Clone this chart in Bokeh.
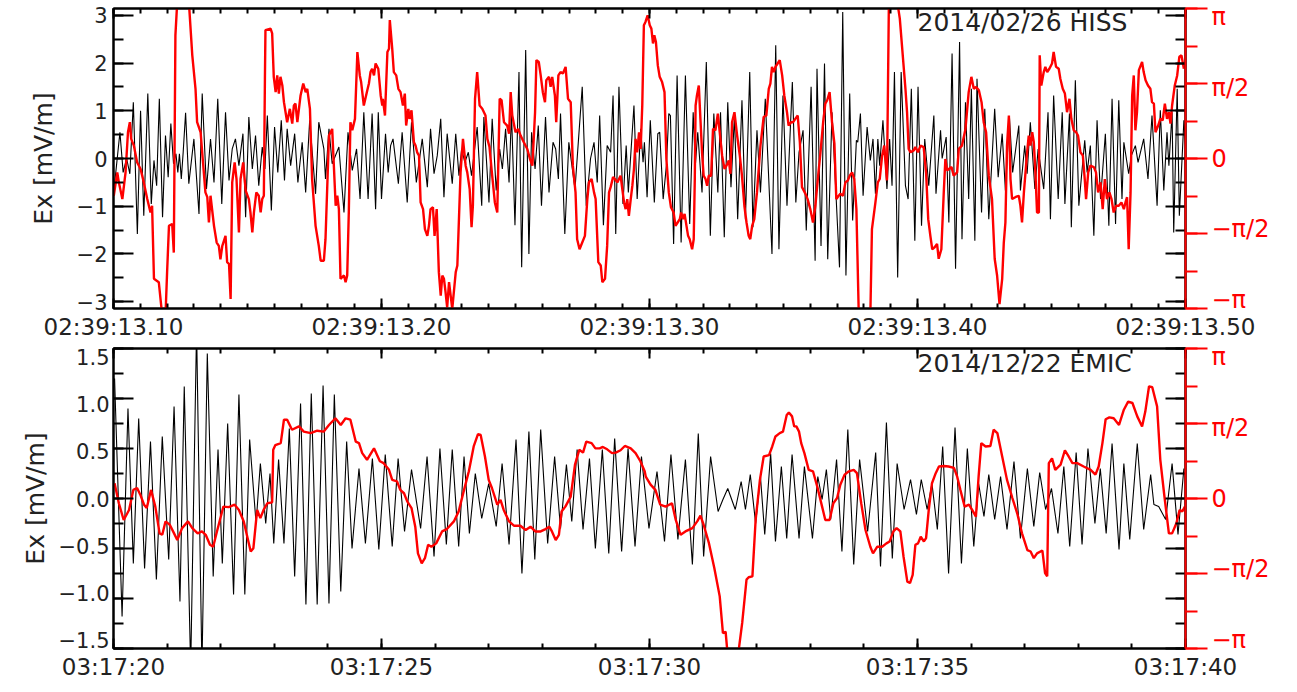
import math
from bokeh.plotting import figure
from bokeh.layouts import column
from bokeh.models import Range1d, LinearAxis, FixedTicker, Label
from bokeh.embed import file_html
from bokeh.resources import INLINE

PI = math.pi
FONT = "DejaVu Sans"
TXT = "#222222"
RED = "#ff0000"

# ---------------- top panel: 2014/02/26 HISS (time in ms after 02:39:13.10)
hiss_ms = [
    0.1, 2.4, 3.6, 4.9, 6.1, 7.4, 8.9, 10.1, 11.3, 12.8,
    14.1, 15.1, 16.1, 17.1, 18.3, 19.4, 20.4, 21.4, 22.4, 23.3,
    24.0, 24.6, 25.3, 26.0, 26.9, 28.1, 30.0, 31.9, 33.1, 34.7,
    36.2, 37.5, 38.9, 40.4, 41.8, 43.1, 44.3, 45.5, 46.8, 48.3,
    49.3, 50.5, 51.8, 53.0, 54.2, 55.5, 56.5, 57.4, 58.9, 60.1,
    61.3, 62.6, 63.8, 64.8, 66.1, 67.6, 68.8, 70.4, 71.7, 73.2,
    75.4, 76.6, 78.5, 79.1, 80.4, 81.6, 84.1, 86.0, 87.5, 89.1,
    90.7, 92.0, 93.4, 95.0, 96.5, 97.8, 98.8, 100.0, 101.5, 102.5,
    103.4, 104.3, 106.3, 107.7, 109.6, 111.2, 113.0, 115.2, 117.1, 118.3,
    119.6, 120.8, 122.1, 123.3, 124.5, 126.4, 127.7, 128.9, 129.9, 131.1,
    132.4, 133.6, 135.7, 137.4, 138.2, 140.1, 141.3, 142.8, 144.1, 145.1,
    146.3, 147.6, 148.5, 149.8, 151.3, 152.3, 153.8, 155.0, 156.0, 157.3,
    158.5, 159.7, 161.2, 162.5, 164.0, 165.0, 166.0, 166.8, 168.4, 169.9,
    172.2, 174.9, 176.4, 178.0, 179.3, 180.5, 181.4, 182.8, 184.2, 185.5,
    186.4, 187.4, 188.6, 190.1, 191.3, 192.1, 194.2, 195.4, 196.7, 197.6,
    198.1, 199.1, 200.3, 201.8, 203.1, 203.8, 205.1, 206.3, 207.2, 207.8,
    209.0, 210.3, 211.8, 213.4, 215.0, 216.3, 217.1, 218.0, 219.6, 221.2,
    222.7, 224.0, 225.5, 226.5, 227.9, 229.2, 230.4, 231.7, 232.9, 234.5,
    235.8, 237.4, 238.6, 240.1, 241.4, 243.2, 245.7, 247.1, 248.3, 249.8,
    251.3, 253.3, 254.6, 255.8, 257.3, 258.5, 260.3, 261.8, 262.5, 264.0,
    265.3, 266.5, 268.1, 270.9, 272.1, 273.3, 274.7, 275.8, 277.2, 277.7,
    278.7, 279.7, 281.2, 282.4, 283.4, 284.3, 285.2, 285.9, 287.1, 288.6,
    289.6, 290.5, 291.4, 292.6, 293.9, 295.5, 296.5, 297.7, 299.0, 300.2,
    301.5, 302.7, 304.2, 306.1, 306.9, 308.6, 309.2, 310.7, 311.7, 312.9,
    314.2, 315.7, 316.6, 317.9, 319.1, 320.1, 321.4, 322.2, 323.9, 325.1,
    326.6, 328.8, 330.1, 331.6, 332.8, 334.3, 335.5, 337.8, 338.4, 340.0,
    340.9, 342.1, 343.8, 345.0, 347.1, 348.7, 349.6, 350.8, 352.5, 354.0,
    355.0, 356.7, 357.4, 358.9, 360.2, 362.4, 363.3, 364.5, 365.8, 367.0,
    368.3, 370.1, 371.4, 372.6, 373.9, 375.1, 376.3, 377.0, 378.8, 379.8,
    381.3, 382.3, 384.4, 386.0, 387.5, 389.4, 390.6, 391.9, 393.1, 393.8,
    395.0, 395.6, 396.9, 397.7, 399.4, 400.0,
]
hiss_ex = [
    -0.7, 0.55, -0.29, 0.0, -0.32, 1.18, -1.58, 1.0, -1.2, 1.36,
    -0.95, -0.04, -0.57, 1.25, -1.23, 0.48, -0.39, 0.73, -0.11, 0.1,
    -0.29, 0.1, -0.43, 0.13, 0.96, -0.53, 0.41, -1.16, 1.36, -0.64,
    0.41, -0.5, 1.25, -0.95, 0.97, -0.46, 0.2, 0.41, -0.15, 0.52,
    -1.23, 0.87, -0.22, 0.48, -0.57, 0.24, -0.22, 0.9, -1.09, 0.66,
    -0.29, 0.8, -0.46, 0.62, -0.15, 0.52, -0.5, 0.34, -0.71, 0.8,
    -0.74, 0.76, 0.2, -0.43, 0.62, -0.11, 0.24, -1.13, 0.55, -0.25,
    0.2, -0.85, 0.97, -0.85, 0.94, -1.06, 0.97, -0.85, 0.52, -0.29,
    0.27, 0.41, -0.53, 0.55, -0.92, 0.76, -0.5, 0.41, -0.6, 0.62,
    -0.32, 0.06, 0.83, -0.81, 0.52, -0.53, 0.52, -0.36, 0.2, -0.08,
    0.13, -0.36, 0.66, -0.99, 0.87, -0.92, 0.83, -0.67, 0.2, -0.22,
    0.62, -0.5, 0.97, -1.4, 1.81, -2.28, 2.27, -2.0, 0.55, -0.22,
    0.69, -0.99, 0.87, -0.71, 0.34, 0.2, -0.43, 0.94, -1.58, 0.34,
    -0.64, 1.5, -0.99, 0.0, 0.34, -0.5, 0.9, -1.4, 0.27, 0.13,
    1.32, -1.58, 1.5, -0.95, 0.27, -0.71, 1.11, -0.85, 0.62, -0.08,
    0.34, -0.81, 0.8, -0.92, 0.52, 0.55, -0.85, -0.15, 0.94, 0.9,
    -1.79, 1.74, -1.76, 1.74, -1.37, 0.97, -0.15, 0.55, -0.71, 2.02,
    -1.62, 0.94, -0.71, 0.97, -1.65, 1.18, -0.6, 0.9, -1.27, 1.22,
    -1.27, 1.81, -1.44, 0.59, -0.71, 1.25, -2.0, 2.37, -1.9, 1.32,
    -0.99, 1.6, -0.92, 0.13, 0.59, -1.51, 1.5, -2.14, 1.88, -1.83,
    1.99, -2.11, 0.97, -2.28, 3.07, -2.45, 1.36, -1.3, 0.38, 0.34,
    0.94, -0.78, 0.66, -0.04, 0.41, -0.74, 0.41, -0.15, 0.8, -0.64,
    0.41, -0.57, 1.81, -2.49, 1.81, -0.57, -0.85, 1.46, -1.72, 1.5,
    -1.41, 0.41, -0.57, 0.9, -0.74, 0.59, 0.0, 0.45, -1.34, 2.2,
    -2.31, 2.44, -1.69, 1.18, -0.85, 1.46, -1.72, 1.67, -1.13, 1.04,
    -1.27, 1.04, -0.39, 0.52, -0.67, 0.87, -0.29, 0.69, -0.67, 0.27,
    -0.32, 0.76, -0.64, 0.2, -0.64, 0.97, -1.27, 1.32, -0.85, 0.97,
    -0.95, 0.94, -1.44, 1.64, -0.99, 0.38, -0.29, 0.27, -1.62, 0.8,
    -0.85, 0.52, -1.41, 1.25, -1.37, 1.22, -0.85, 0.34, -0.32, 0.06,
    0.27, -0.08, 0.41, -0.43, 0.9, -0.99, 1.01, -0.67, 0.55, -0.15,
    0.97, -1.55, 1.46, -1.2, 0.8, 0.3,
]
hiss_phase_ms = [
    0.1, 1.4, 2.0, 3.3, 4.5, 5.4, 6.1, 6.6, 7.6, 8.8,
    10.1, 11.3, 12.6, 13.8, 14.4, 15.1, 16.9, 18.2, 19.4, 20.0,
    20.7, 21.9, 22.5, 23.1, 23.8, 28.1, 29.4, 30.6, 31.2, 32.5,
    34.3, 35.0, 35.6, 36.2, 37.5, 38.5, 39.3, 39.9, 40.6, 41.8,
    42.4, 43.1, 43.7, 44.3, 45.2, 45.9, 46.8, 47.4, 48.4, 49.3,
    50.5, 51.1, 51.8, 52.4, 53.3, 54.2, 54.9, 55.5, 56.1, 56.5,
    56.7, 58.6, 59.2, 59.8, 60.5, 61.1, 61.7, 62.3, 63.0, 63.6,
    64.8, 65.8, 66.7, 67.3, 67.9, 68.6, 69.8, 70.8, 71.7, 72.3,
    73.3, 74.1, 75.4, 76.6, 77.3, 78.5, 79.1, 80.4, 81.6, 82.9,
    83.5, 84.1, 84.7, 86.0, 86.6, 87.2, 87.8, 88.4, 89.1, 90.1,
    91.0, 91.9, 92.4, 93.4, 94.7, 95.3, 95.9, 96.5, 97.2,
    97.8, 98.8, 99.7, 100.3, 100.5, 101.3, 102.2, 102.8, 103.1, 104.0,
    104.6, 105.5, 106.3, 107.1, 108.0, 108.7, 109.2, 110.0, 110.5, 111.2,
    112.1, 112.7, 113.3, 114.0, 114.6, 115.5, 116.2, 117.1, 117.7, 118.3,
    119.2, 119.8, 120.6, 121.4, 122.1, 122.7, 123.3, 123.9, 124.5, 125.2,
    126.4, 127.7, 128.3, 129.5, 130.4, 131.4, 132.0, 132.9, 133.6, 134.1,
    134.9, 135.7, 136.6, 137.6, 138.8, 139.5, 140.3, 141.3, 142.3, 143.2,
    144.1, 144.8, 145.7, 146.9, 147.6, 148.2, 148.8, 150.0, 151.0, 151.9,
    153.1, 154.4, 155.4, 156.3, 157.3, 157.8, 158.7, 159.4, 160.2, 161.0,
    161.5, 162.5, 163.1, 163.7, 164.7, 165.2, 166.0, 166.8, 167.7, 168.7,
    169.6, 170.6, 171.4, 172.4, 173.0, 173.9, 174.9, 175.9, 176.8, 177.4,
    178.4, 179.3, 179.9, 180.9, 181.8, 182.4, 183.4, 184.2, 184.9, 185.5,
    186.4, 187.1, 188.0, 189.2, 190.5, 191.1, 191.7, 192.3, 193.0, 193.6,
    194.2, 194.8, 195.4, 196.1, 196.7, 197.3, 197.9,
    198.5, 199.3, 200.1, 200.7, 201.3, 201.8, 202.4, 203.1, 203.8, 204.7,
    205.6, 206.3, 207.2, 208.0, 209.0, 209.7, 210.5, 211.3, 211.8, 212.5,
    213.1, 213.8, 214.4, 215.0, 215.9, 216.5, 216.9, 217.2, 217.7, 218.4,
    219.0, 219.6, 220.2, 220.9, 221.5, 222.1, 223.0, 223.7, 224.6, 225.5,
    226.2, 227.1, 228.0, 228.7, 229.6, 230.2, 230.8, 231.7, 232.7, 233.7,
    234.5, 235.4, 236.2, 237.0, 237.6, 238.3, 239.1, 240.1, 241.4, 242.6,
    243.6, 244.5, 245.1, 245.7, 246.4, 247.0, 247.8, 248.6, 249.5, 250.3,
    251.3, 251.9, 252.8, 253.6, 254.4, 255.3, 256.1, 256.9, 258.2, 259.0,
    260.0, 261.0, 261.9, 262.8, 263.8, 264.8, 265.6, 266.3, 267.2, 268.1,
    269.0, 269.7, 270.6, 271.2, 272.2, 273.1, 274.0, 274.7, 275.6, 276.4,
    277.2, 278.1, 282.4, 283.0, 284.3, 285.2, 285.9, 286.8, 287.6, 288.6,
    289.3, 289.9, 292.4, 293.4, 294.2, 295.5,
    296.1, 296.7, 297.4, 298.6, 299.2, 300.2, 301.1, 302.3, 303.2, 304.0,
    304.8, 305.5, 306.4, 307.3, 307.9, 308.9, 309.8, 310.4, 311.0, 311.7,
    312.7, 313.5, 314.8, 315.4, 316.6, 317.9, 319.1, 320.1, 321.0, 321.9,
    322.9, 323.9, 324.7, 325.6, 326.6, 327.8, 328.8, 329.7, 330.6, 331.6,
    332.2, 332.8, 333.4, 334.1, 334.7, 335.3, 336.5, 337.8, 338.4, 339.0,
    339.7, 340.9, 341.5, 342.1, 342.8, 343.4, 344.0, 344.6, 345.3, 345.6,
    346.2, 347.1, 347.7, 348.4, 349.2, 350.2, 350.8, 351.7, 352.7, 353.3,
    354.2, 355.0, 355.8, 356.7, 357.4, 358.3, 359.2, 359.9, 360.8, 361.7,
    362.4, 362.9, 363.7, 364.5, 365.8, 366.6, 367.4, 368.3, 369.1, 369.9,
    370.7, 371.6, 372.4, 373.2, 374.1, 375.1, 376.1, 377.0, 377.6, 378.2,
    378.8, 379.5, 380.1, 380.7, 381.3, 381.9, 382.6, 383.8, 384.4, 385.1,
    386.0, 386.9, 387.5, 388.2, 388.8, 389.8, 390.6, 391.5, 392.3, 393.1,
    393.8, 394.4, 395.0, 396.0, 396.9, 397.7, 398.5, 399.4,
]
hiss_phase = [
    -0.78, -0.29, -0.5, -0.85, -0.29, 0.55, 0.76, 0.41, 0.27, -0.08,
    -0.22, -0.5, -0.85, -1.13, -0.99, -2.52, -2.59, -3.3, -3.3, -2.38,
    -1.41, -1.37, -1.97, 2.58, 3.3, 3.3, 2.16, 1.46, 0.76, 0.55,
    -0.71, -0.81, -1.34, -0.78, -1.41, -1.76, -1.83, -2.11, -1.83, -1.62,
    -2.17, -2.21, -2.94, -0.5, -0.08, -0.43, -1.55, -0.43, -0.08, -0.67,
    -0.85, -1.13, -1.55, -1.13, -0.71, -0.78, -1.13, -0.85, -0.78, 1.67,
    2.69, 2.72, 2.62, 1.71, 1.39, 1.74, 1.36, 1.71, 1.53, 1.18,
    0.76, 1.04, 0.73, 1.11, 1.15, 0.76, 1.32, 1.57, 1.39, 1.46,
    1.04, -0.43, -1.41, -1.83, -2.14, -2.14, -1.69, 0.48, 0.62, -0.99,
    -0.78, -1.06, -2.52, -2.45, -2.59, -2.45, -1.13, 0.76, 0.59, 0.83,
    2.23, 1.74, 1.6, 1.11, 1.43, 1.57, 1.81, 1.88, 1.74,
    1.99, 1.88, 1.32, 1.11, 1.25, 0.9, 2.23, 2.3, 2.9, 2.3,
    1.81, 1.74, 1.46, 1.39, 1.11, 1.36, 0.69, 1.04, 0.83, 1.01,
    0.34, 0.27, 0.13, 0.06, -0.92, -1.06, -1.48, -1.62, -1.41, -1.06,
    -1.02, -1.62, -1.06, -2.38, -2.87, -2.45, -2.52, -2.8, -3.12, -2.59,
    -3.15, -2.38, -2.24, -0.29, 0.41, -0.15, -0.29, -0.64, -1.44, -0.99,
    1.25, 1.81, 1.11, 1.04, 0.9, 0.41, 0.24, -0.36, -0.92, -1.13,
    1.25, 1.22, 0.76, 0.69, 0.52, 1.39, 0.9, 0.55, 0.62, 0.48,
    0.34, 0.2, -0.01, -0.15, 0.97, 2.06, 2.02, 1.74, 1.39, 1.18,
    1.64, 1.71, 1.5, 1.71, 1.32, 0.76, 1.74, 1.81, 1.78, 1.92,
    1.25, 1.18, -0.15, -0.71, -1.69, -1.9, -1.76, -1.62, -0.85, -0.5,
    -0.43, -0.71, -0.85, -2.17, -2.24, -2.59, -2.52, -1.83, -0.71, -0.6,
    -0.39, -0.43, -0.5, -0.36, -0.92, -1.06, -0.85, -1.2, -0.85, -0.57,
    -0.22, 0.41, 0.13, 0.55, 0.2, 1.11, 2.79,
    2.86, 3.0, 2.79, 2.72, 2.41, 2.58, 2.44, 1.95, 1.71, 1.6,
    1.39, -0.01, -0.71, -1.02, -1.13, -1.41, -1.34, -1.27, -1.13, -1.27,
    -1.16, -1.41, -1.62, -1.69, -1.9, -1.69, -0.43, 1.11, 1.32, 1.53,
    0.83, 0.13, -0.36, -0.43, -0.57, -0.36, -0.36, 0.62, 0.59, 0.94,
    0.55, 0.06, -0.22, -0.15, -0.04, -0.32, 0.76, 0.97, 0.48, 0.06,
    -0.36, -0.99, -1.34, -1.62, -1.69, -1.41, -1.27, -0.71, 0.27, 0.87,
    0.9, 1.46, 1.57, 1.92, 1.81, 1.92, 1.99, 2.06, 1.74, 1.32,
    0.97, 0.69, 0.76, 0.76, 0.83, 0.9, 0.34, -0.6, -0.74, -0.85,
    -1.06, -1.34, -0.99, -0.43, 0.13, 0.76, 1.15, 1.22, 1.39, 0.76,
    0.31, -0.85, -0.78, -0.74, -0.78, -0.5, -0.46, -0.36, -0.29, -0.43,
    -1.06, -3.3, -3.3, -1.48, -0.92, -0.5, -0.43, 0.06, 0.27, -0.46,
    3.14, 3.3, 3.3, 2.93, 2.37, 1.46,
    0.97, 0.2, 0.13, 0.17, 0.24, 0.13, 0.27, 0.24, -0.29, -1.27,
    -1.62, -1.9, -1.86, -1.79, -2.1, -1.9, -0.71, -0.01, -0.25, -0.22,
    -0.18, -0.36, -0.29, 0.2, 0.27, 0.62, 1.39, 1.71, 1.46, 1.5,
    1.43, 1.18, 0.76, 0.55, -0.36, -0.85, -2.1, -2.45, -3.05, -2.52,
    -1.76, -1.34, 0.27, 0.9, -0.43, -0.85, -0.81, -0.78, -0.99, -1.34,
    -0.71, 0.13, 0.48, 0.27, 0.55, 0.34, -0.29, -1.13, -1.13, 2.16,
    1.53, 1.81, 1.92, 1.81, 1.88, 1.99, 2.23, 1.92, 1.88, 1.67,
    1.46, 1.36, 0.97, 1.25, 0.83, 0.59, 0.55, 0.48, 0.13, 0.06,
    -0.43, -0.85, -0.29, -0.15, -0.18, -0.29, -0.71, -0.5, -1.06, -0.43,
    -0.85, -0.71, -0.85, -1.13, -0.99, -0.99, -0.92, -1.06, -0.92, -0.81,
    -1.9, -0.71, 1.32, 1.74, 0.59, 0.97, 1.85, 2.02, 1.81, 1.64,
    1.53, 1.46, 1.18, 1.15, 0.55, 0.69, 0.83, 0.8, 1.15, 0.83,
    0.97, 0.73, 1.11, 1.53, 1.74, 2.13, 2.16, 1.88,
]

# ---------------- bottom panel: 2014/12/22 EMIC (time in s after 03:17:00)
emic_s = [
    20.02, 20.16, 20.27, 20.37, 20.47, 20.58, 20.69, 20.80, 20.91, 21.03,
    21.13, 21.24, 21.32, 21.44, 21.55, 21.65, 21.75, 21.86, 21.95, 22.03,
    22.13, 22.24, 22.34, 22.45, 22.54, 22.66, 22.74, 22.84, 22.92, 22.99,
    23.08, 23.18, 23.28, 23.38, 23.49, 23.59, 23.69, 23.80, 23.91, 24.02,
    24.12, 24.24, 24.35, 24.45, 24.58, 24.70, 24.83, 24.95, 25.07, 25.20,
    25.31, 25.43, 25.56, 25.73, 25.85, 25.98, 26.09, 26.21, 26.32, 26.44,
    26.54, 26.64, 26.75, 26.87, 27.00, 27.14, 27.25, 27.38, 27.51, 27.62,
    27.75, 27.86, 27.97, 28.10, 28.23, 28.34, 28.45, 28.55, 28.65, 28.76,
    28.88, 28.99, 29.12, 29.24, 29.35, 29.48, 29.60, 29.73, 29.85, 29.99,
    30.14, 30.28, 30.40, 30.53, 30.67, 30.80, 30.91, 31.01, 31.14, 31.28,
    31.37, 31.46, 31.60, 31.71, 31.79, 31.88, 31.98, 32.07, 32.15, 32.26,
    32.35, 32.46, 32.56, 32.66, 32.79, 32.89, 33.04, 33.14, 33.22, 33.30,
    33.38, 33.49, 33.59, 33.70, 33.81, 33.92, 34.07, 34.22, 34.31, 34.42,
    34.53, 34.62, 34.75, 34.87, 34.98, 35.07, 35.18, 35.27, 35.37, 35.47,
    35.58, 35.70, 35.82, 35.93, 36.05, 36.14, 36.24, 36.33, 36.44, 36.55,
    36.67, 36.80, 36.92, 37.05, 37.17, 37.28, 37.39, 37.50, 37.62, 37.73,
    37.84, 37.96, 38.07, 38.18, 38.31, 38.41, 38.52, 38.63, 38.76, 38.85,
    38.96, 39.10, 39.22, 39.35, 39.41, 39.50, 39.63, 39.75, 39.86, 39.97,
]
emic_ex = [
    1.2, -1.18, 0.9, -0.65, 0.8, -0.7, 0.57, -0.81, 0.62, -0.61,
    0.92, -1.03, 1.12, -1.7, 1.7, -1.7, 1.45, -0.78, 0.49, -0.65,
    0.75, -0.96, 1.04, -0.96, 0.59, -0.25, 0.35, -0.25, 0.25, -0.45,
    0.39, -0.45, 0.7, -0.78, 0.95, -1.06, 1.05, -1.06, 1.13, -1.05,
    1.04, -0.93, 0.57, -0.5, 0.3, -0.45, 0.4, -0.51, 0.44, -0.48,
    0.4, -0.33, 0.29, -0.3, 0.42, -0.58, 0.5, -0.46, 0.49, -0.48,
    0.42, -0.35, 0.25, -0.2, 0.15, -0.28, 0.35, -0.46, 0.59, -0.75,
    0.67, -0.61, 0.69, -0.45, 0.42, -0.3, 0.34, -0.23, 0.49, -0.31,
    0.4, -0.5, 0.49, -0.55, 0.6, -0.53, 0.5, -0.48, 0.42, -0.3,
    0.27, -0.43, 0.44, -0.41, 0.39, -0.66, 0.65, -0.58, 0.42, -0.13,
    -0.01, 0.1, -0.11, 0.17, -0.11, 0.24, -0.25, 0.22, -0.36, 0.45,
    -0.43, 0.32, -0.4, 0.44, -0.4, 0.32, -0.4, 0.22, -0.01, 0.29,
    -0.21, 0.39, -0.53, 0.69, -0.66, 0.39, -0.33, 0.46, -0.68, 0.76,
    -0.6, 0.35, -0.11, 0.19, -0.16, 0.19, -0.11, 0.15, -0.31, 0.52,
    -0.75, 0.71, -0.65, 0.5, -0.48, 0.15, -0.18, 0.24, -0.21, 0.22,
    -0.31, 0.37, -0.4, 0.3, -0.28, 0.26, -0.11, 0.1, -0.35, 0.32,
    -0.48, 0.46, -0.46, 0.5, -0.25, 0.3, -0.35, 0.55, -0.51, 0.35,
    -0.41, 0.55, -0.31, 0.24, -0.06, -0.08, -0.21, 0.35, -0.36, 0.3,
]
emic_phase_s = [
    20.02, 20.10, 20.19, 20.29, 20.37, 20.44, 20.50, 20.57, 20.62, 20.70,
    20.78, 20.86, 20.91, 20.97, 21.05, 21.13, 21.19, 21.28, 21.39, 21.47,
    21.57, 21.65, 21.72, 21.80, 21.86, 21.93, 22.05, 22.15, 22.26, 22.34,
    22.43, 22.51, 22.56, 22.61, 22.68, 22.74, 22.80, 22.87, 22.96, 22.98,
    23.02, 23.12, 23.18, 23.24, 23.33, 23.46, 23.55, 23.68, 23.80, 23.92,
    24.02, 24.14, 24.24, 24.33, 24.42, 24.52, 24.58, 24.64, 24.73, 24.86,
    24.97, 25.04, 25.14, 25.20, 25.29, 25.35, 25.42, 25.48, 25.56, 25.63,
    25.68, 25.75, 25.81, 25.87, 25.93, 26.02, 26.13, 26.22, 26.35, 26.44,
    26.54, 26.63, 26.72, 26.80, 26.85, 26.93, 27.00, 27.06, 27.16, 27.22,
    27.28, 27.38, 27.47, 27.59, 27.69, 27.78, 27.87, 27.97, 28.06, 28.13,
    28.18, 28.25, 28.31, 28.36, 28.43, 28.53, 28.61, 28.69, 28.76, 28.82,
    28.92, 28.99, 29.07, 29.13, 29.21, 29.30, 29.37, 29.46, 29.54, 29.65,
    29.74, 29.83, 29.91, 29.93, 30.02, 30.11, 30.20, 30.30, 30.42, 30.49,
    30.58, 30.67, 30.80, 30.89, 30.95, 31.01, 31.11, 31.21, 31.31, 31.37,
    31.42, 31.46, 31.65, 31.73, 31.81, 31.85, 31.92, 31.98, 32.06, 32.13,
    32.23, 32.29, 32.35, 32.43, 32.49, 32.56, 32.60, 32.66, 32.70, 32.74,
    32.79, 32.83, 32.89, 32.97, 33.05, 33.13, 33.22, 33.28, 33.36, 33.43,
    33.50, 33.56, 33.64, 33.72, 33.81, 33.87, 33.95, 34.03, 34.12, 34.17,
    34.25, 34.34, 34.42, 34.48, 34.55, 34.61, 34.68, 34.74, 34.81, 34.86,
    34.91, 34.96, 35.01, 35.06, 35.12, 35.16, 35.21, 35.27, 35.34, 35.40,
    35.49, 35.58, 35.68, 35.74, 35.80, 35.88, 35.96, 36.02, 36.09, 36.14,
    36.19, 36.27, 36.36, 36.42, 36.49, 36.58, 36.67, 36.77, 36.86, 36.95,
    37.05, 37.11, 37.17, 37.23, 37.33, 37.38, 37.42, 37.45, 37.51, 37.57,
    37.67, 37.75, 37.82, 37.89, 37.98, 38.10, 38.23, 38.32, 38.38, 38.45,
    38.51, 38.58, 38.66, 38.76, 38.85, 38.93, 39.01, 39.10, 39.19, 39.25,
    39.32, 39.38, 39.47, 39.53, 39.60, 39.69, 39.75, 39.83, 39.89, 39.94,
    39.99,
]
emic_phase = [
    0.32, -0.1, -0.45, -0.24, 0.18, 0.22, 0.08, -0.13, -0.2, 0.18,
    -0.17, -0.73, -0.76, -0.48, -0.55, -0.73, -0.87, -0.62, -0.48, -0.62,
    -0.73, -0.69, -0.76, -0.97, -1.01, -0.69, -0.17, -0.18, -0.13, -0.24,
    -0.48, -0.87, -1.11, -1.04, -0.24, -0.41, -0.24, -0.1, -0.08, 1.02,
    1.12, 1.16, 1.65, 1.65, 1.44, 1.51, 1.4, 1.37, 1.42, 1.4,
    1.54, 1.68, 1.54, 1.68, 1.65, 1.19, 1.16, 0.95, 0.81, 1.05,
    0.78, 0.74, 0.6, 0.39, 0.36, 0.18, 0.11, -0.06, -0.2, -0.59,
    -1.15, -1.36, -1.25, -0.97, -1.01, -0.94, -0.69, -0.64, -0.48, -0.27,
    0.18, 0.57, 1.09, 1.35, 1.33, 0.88, 0.39, 0.22, -0.13, -0.03,
    -0.24, -0.48, -0.57, -0.57, -0.66, -0.59, -0.69, -0.69, -0.64, -0.59,
    -0.69, -0.87, -0.76, -0.27, -0.17, 0.04, 0.71, 1.02, 0.96, 1.19,
    1.16, 1.05, 1.05, 1.08, 1.03, 0.95, 0.96, 1.01, 1.1, 1.05,
    0.95, 0.78, 0.57, 0.46, 0.29, 0.18, -0.13, -0.17, -0.1, -0.45,
    -0.76, -0.69, -0.62, -0.48, -0.36, -0.55, -0.94, -1.46, -2.05, -2.82,
    -2.79, -3.3, -3.3, -2.6, -1.7, -1.65, -1.63, -0.45, 0.39, 0.88,
    0.91, 1.09, 1.3, 1.37, 1.4, 1.75, 1.8, 1.72, 1.51, 1.51,
    1.4, 1.16, 0.95, 0.6, 0.57, 0.25, -0.17, -0.45, -0.45, -0.1,
    0.01, 0.29, 0.5, 0.57, 0.6, 0.53, -0.1, -0.66, -1.01, -1.15,
    -1.01, -1.01, -0.94, -0.9, -0.69, -0.62, -0.69, -1.22, -1.74, -1.77,
    -1.6, -0.97, -0.94, -0.8, -0.9, -0.83, -0.24, 0.32, 0.53, 0.67,
    0.68, 0.67, 0.64, 0.46, 0.18, -0.17, -0.13, -0.24, -0.38, 0.46,
    1.16, 1.09, 1.1, 1.44, 1.37, 0.88, 0.39, 0.01, -0.31, -0.73,
    -1.08, -1.11, -1.25, -1.15, -1.09, -1.56, -1.63, 0.74, 0.84, 0.6,
    0.71, 1.01, 0.88, 0.74, 0.74, 0.67, 0.6, 0.5, 0.67, 1.16,
    1.66, 1.7, 1.68, 1.54, 1.86, 2.03, 2.0, 1.72, 1.51, 1.82,
    2.35, 2.33, 1.93, 0.81, 0.11, -0.73, -0.73, -0.52, -0.24, -0.27,
    -0.17,
]

assert len(hiss_ms) == len(hiss_ex)
assert len(hiss_phase_ms) == len(hiss_phase)
assert len(emic_s) == len(emic_ex)
assert len(emic_phase_s) == len(emic_phase)

# tick / label definitions
hiss_xticks = [0, 100, 200, 300, 400]
hiss_xlabels = ["02:39:13.10", "02:39:13.20", "02:39:13.30", "02:39:13.40", "02:39:13.50"]
hiss_yticks = [-3, -2, -1, 0, 1, 2, 3]
hiss_ylabels = ["\u22123", "\u22122", "\u22121", "0", "1", "2", "3"]
emic_xticks = [20, 25, 30, 35, 40]
emic_xlabels = ["03:17:20", "03:17:25", "03:17:30", "03:17:35", "03:17:40"]
emic_yticks = [-1.5, -1.0, -0.5, 0.0, 0.5, 1.0, 1.5]
emic_ylabels = ["\u22121.5", "\u22121.0", "\u22120.5", "0.0", "0.5", "1.0", "1.5"]
phase_ticks = [-PI, -PI / 2, 0.0, PI / 2, PI]
phase_labels = ["\u2212\u03c0", "\u2212\u03c0/2", "0", "\u03c0/2", "\u03c0"]

Y_FS = "21px"
X_FS = "23px"
RED_FS = "24px"
LABEL_SHRINK = 0.945   # labels sit slightly inside their tick marks in the original


def style_axis(ax, ticker, labels, major_in, minor_in, show_labels=True, color="black", fs=Y_FS):
    ax.ticker = ticker
    ax.axis_line_color = color
    ax.axis_line_width = 2
    ax.major_tick_line_color = color
    ax.minor_tick_line_color = color
    ax.major_tick_line_width = 2
    ax.minor_tick_line_width = 2
    ax.major_tick_in = major_in
    ax.major_tick_out = 0
    ax.minor_tick_in = minor_in
    ax.minor_tick_out = 0
    ax.major_label_text_font = FONT
    ax.major_label_text_color = TXT
    if show_labels:
        ax.major_label_overrides = dict(zip(ticker.ticks, labels))
        ax.major_label_text_font_size = fs
    else:
        ax.major_label_overrides = {t: "" for t in ticker.ticks}
        ax.major_label_text_font_size = "1px"
        ax.major_label_standoff = 0


def label_axis(ticks, labels, color, standoff, fs, y_range_name="default"):
    ax = LinearAxis(y_range_name=y_range_name)
    shown = [v * LABEL_SHRINK for v in ticks]
    ax.ticker = FixedTicker(ticks=shown, minor_ticks=[])
    ax.major_label_overrides = dict(zip(shown, labels))
    ax.axis_line_color = None
    ax.major_tick_line_color = None
    ax.minor_tick_line_color = None
    ax.major_tick_in = 0
    ax.major_tick_out = 0
    ax.minor_tick_in = 0
    ax.minor_tick_out = 0
    ax.major_label_standoff = standoff
    ax.major_label_text_font = FONT
    ax.major_label_text_font_size = fs
    ax.major_label_text_color = color
    return ax


def set_ylabel(ax, standoff):
    ax.axis_label = "Ex [mV/m]"
    ax.axis_label_text_font = FONT
    ax.axis_label_text_font_size = "25px"
    ax.axis_label_text_font_style = "normal"
    ax.axis_label_text_color = TXT
    ax.axis_label_standoff = standoff


def panel(x_range, y_range, xticks, xminor, xlabels, yticks, yminor, ylabels,
          shrink_left, height, mb_top, mb_bottom, title, title_x, title_y,
          ylab_standoff, t, ex, pt, ph):
    p = figure(width=1290, height=height, x_range=Range1d(*x_range),
               y_range=Range1d(*y_range), output_backend="svg",
               toolbar_location=None, min_border_left=113, min_border_right=105,
               min_border_top=mb_top, min_border_bottom=mb_bottom)
    p.extra_y_ranges = {"phase": Range1d(-PI, PI)}
    p.grid.visible = False
    p.outline_line_color = "black"
    p.outline_line_width = 2
    p.background_fill_color = "white"
    p.border_fill_color = "white"

    xt = FixedTicker(ticks=xticks, minor_ticks=xminor)
    yt = FixedTicker(ticks=yticks, minor_ticks=yminor)

    style_axis(p.xaxis[0], xt, xlabels, 10, 5, fs=X_FS)
    p.xaxis[0].major_label_standoff = 5

    if shrink_left:
        style_axis(p.yaxis[0], yt, ylabels, 20, 10, show_labels=False)
        lab = label_axis(yticks, ylabels, TXT, 4, Y_FS)
        set_ylabel(lab, ylab_standoff)
        p.add_layout(lab, "left")
    else:
        style_axis(p.yaxis[0], yt, ylabels, 20, 10)
        p.yaxis[0].major_label_standoff = 6
        set_ylabel(p.yaxis[0], ylab_standoff)

    top = LinearAxis()
    style_axis(top, FixedTicker(ticks=xticks, minor_ticks=xminor), xlabels, 10, 5, show_labels=False)
    p.add_layout(top, "above")

    rmirror = LinearAxis()
    style_axis(rmirror, FixedTicker(ticks=yticks, minor_ticks=yminor), ylabels, 20, 10, show_labels=False)
    p.add_layout(rmirror, "right")

    raxis = LinearAxis(y_range_name="phase")
    style_axis(raxis, FixedTicker(ticks=phase_ticks, minor_ticks=[k * PI / 4 for k in range(-4, 5)]),
               phase_labels, 0, 0, show_labels=False, color=RED)
    raxis.major_tick_out = 22
    raxis.minor_tick_out = 12
    p.add_layout(raxis, "right")
    p.add_layout(label_axis(phase_ticks, phase_labels, RED, 4, RED_FS, "phase"), "right")

    p.line(t, ex, line_color="black", line_width=1.1)
    p.line(pt, ph, y_range_name="phase", line_color=RED, line_width=2.4)

    p.add_layout(Label(x=title_x, y=title_y, text=title, text_color=TXT,
                       text_font=FONT, text_font_size="25px",
                       text_baseline="middle", text_align="left"))
    return p


p1 = panel((0, 400), (-PI, PI), hiss_xticks, list(range(0, 401, 10)), hiss_xlabels,
           hiss_yticks, [k * 0.5 for k in range(-6, 7)], hiss_ylabels, False,
           342, 8, 34, "2014/02/26 HISS", 300, 2.85, 16,
           hiss_ms, hiss_ex, hiss_phase_ms, hiss_phase)
p2 = panel((20, 40), (-1.5, 1.5), emic_xticks, list(range(20, 41)), emic_xlabels,
           emic_yticks, [k * 0.25 for k in range(-6, 7)], emic_ylabels, True,
           342, 6, 36, "2014/12/22 EMIC", 35.0, 1.35, 6,
           emic_s, emic_ex, emic_phase_s, emic_phase)

layout = column(p1, p2, spacing=0)
open("out.html", "w").write(file_html(layout, INLINE))
